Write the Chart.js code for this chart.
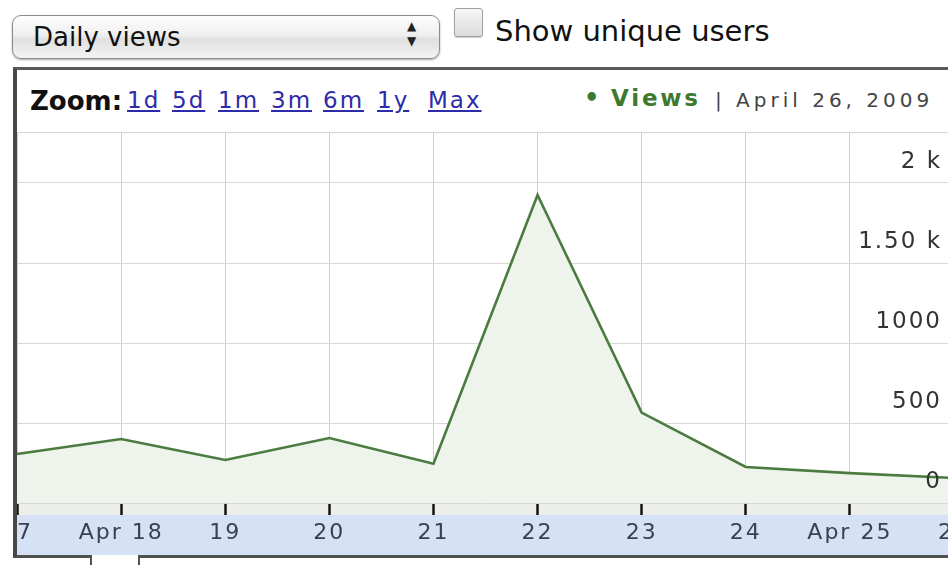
<!DOCTYPE html>
<html>
<head>
<meta charset="utf-8">
<script src="https://cdn.jsdelivr.net/npm/chart.js@4.4.1/dist/chart.umd.min.js"></script>
<style>
body { margin: 0; width: 948px; height: 565px; overflow: hidden; background: #fff; position: relative; font-family: "DejaVu Sans", sans-serif; }
.abs { position: absolute; white-space: nowrap; line-height: 1; }
#select { position: absolute; left: 12px; top: 15px; width: 426px; height: 42px; border: 1px solid #8c8c8c; border-radius: 9px;
  background: linear-gradient(#fefefe, #efefef 45%, #e0e0e0 55%, #f3f3f3); box-shadow: 0 1px 2px rgba(0,0,0,.35); }
#check { position: absolute; left: 454px; top: 8px; width: 27px; height: 27px; border: 1px solid #a0a0a0; border-radius: 3px;
  background: linear-gradient(#f6f6f6, #dcdcdc); box-shadow: 0 1px 1px rgba(0,0,0,.2); }
#frame { position: absolute; left: 13px; top: 67px; width: 960px; height: 491px; box-sizing: border-box;
  border-top: 3px solid #5a5a5a; border-left: 4px solid #484848; border-bottom: 3px solid #505050; }
#tab { position: absolute; left: 90px; top: 555px; width: 46px; height: 12px; background: #fff; border-left: 2px solid #505050; border-right: 2px solid #505050; }
#sep { position: absolute; left: 17px; top: 132px; width: 931px; height: 1px; background: #d4d4d4; }
#plot { position: absolute; left: 17px; top: 133px; width: 931px; height: 422px; overflow: hidden;
  background: linear-gradient(#fff 0, #fff 370px, #eceee9 370px, #eceee9 382px, #d5e2f5 382px, #d5e2f5 422px); }
#plot canvas { position: absolute; left: -52px; top: 0; }
.lnk { color: #2c2ca8; text-decoration: underline; font-size: 23px; letter-spacing: 2px; top: 89px; }
</style>
</head>
<body>
<div id="select"></div>
<div class="abs" style="left:33px;top:24px;font-size:26px;color:#111;">Daily views</div>
<div class="abs" style="left:407px;top:20px;font-size:12px;color:#222;">▲</div>
<div class="abs" style="left:407px;top:35px;font-size:12px;color:#222;">▼</div>
<div id="check"></div>
<div class="abs" style="left:495px;top:17px;font-size:29px;color:#111;">Show unique users</div>

<div id="frame"></div>
<div id="tab"></div>
<div class="abs" style="left:30px;top:88px;font-size:26px;font-weight:bold;color:#111;">Zoom:</div>
<div class="abs lnk" style="left:127px;">1d</div>
<div class="abs lnk" style="left:172px;">5d</div>
<div class="abs lnk" style="left:218px;">1m</div>
<div class="abs lnk" style="left:271px;">3m</div>
<div class="abs lnk" style="left:323px;">6m</div>
<div class="abs lnk" style="left:377px;">1y</div>
<div class="abs lnk" style="left:428px;">Max</div>
<div class="abs" style="left:584px;top:86px;font-size:24px;font-weight:bold;color:#3d7a2e;">•</div>
<div class="abs" style="left:611px;top:87px;font-size:23px;font-weight:bold;letter-spacing:2.8px;color:#3d7a2e;">Views</div>
<div class="abs" style="left:715px;top:90px;font-size:20px;letter-spacing:4px;color:#444;">| April 26, 2009</div>
<div id="sep"></div>

<div id="plot"><canvas id="chart" width="1041" height="422"></canvas></div>

<script>
var days = ["17", "Apr 18", "19", "20", "21", "22", "23", "24", "Apr 25", "26"];
var views = [306, 400, 269, 406, 245, 1925, 565, 225, 187, 156];
var yTickValues = [0, 500, 1000, 1500, 2000];
var yTickLabels = ["0", "500", "1000", "1.50 k", "2 k"];

// canvas letter spacing, the original labels are spaced out
var spacing = {
    id: 'spacing',
    beforeDraw: function (chart) {
        chart.ctx.letterSpacing = '2px';
    }
};

var ctx = document.getElementById('chart').getContext('2d');
var myChart = new Chart(ctx, {
    type: 'line',
    data: {
        labels: days,
        datasets: [{
            label: "Views",
            data: views,
            borderColor: '#4a7b3f',
            borderWidth: 2.6,
            backgroundColor: '#eef3eb',
            fill: 'start',
            pointRadius: 0,
            tension: 0
        }]
    },
    options: {
        responsive: false,
        animation: false,
        layout: { padding: 0 },
        plugins: {
            legend: { display: false },
            tooltip: { enabled: false }
        },
        scales: {
            x: {
                offset: true,
                border: { display: false },
                grid: { color: '#d0d0d0', lineWidth: 1, tickLength: 12, tickColor: '#151515', tickWidth: 2.5 },
                ticks: {
                    autoSkip: false, maxRotation: 0, padding: 5, color: '#3a4150',
                    font: { family: 'DejaVu Sans', size: 22 }
                },
                afterFit: function (s) { s.height = 52; s.paddingLeft = 0; s.paddingRight = 0; }
            },
            y: {
                position: 'right',
                min: 0,
                max: 2312.5,
                border: { display: false },
                grid: { color: '#d8d8d8', lineWidth: 1, drawTicks: false },
                ticks: {
                    z: 1, autoSkip: false, mirror: true, padding: -64, labelOffset: -21,
                    color: '#333', font: { family: 'DejaVu Sans', size: 23 },
                    callback: function (v) { return yTickLabels[yTickValues.indexOf(v)]; }
                },
                afterBuildTicks: function (s) {
                    s.ticks = yTickValues.map(function (v) { return { value: v }; });
                },
                afterFit: function (s) { s.width = 0; s.paddingTop = 0; s.paddingBottom = 0; }
            }
        }
    },
    plugins: [spacing]
});
</script>
</body>
</html>
